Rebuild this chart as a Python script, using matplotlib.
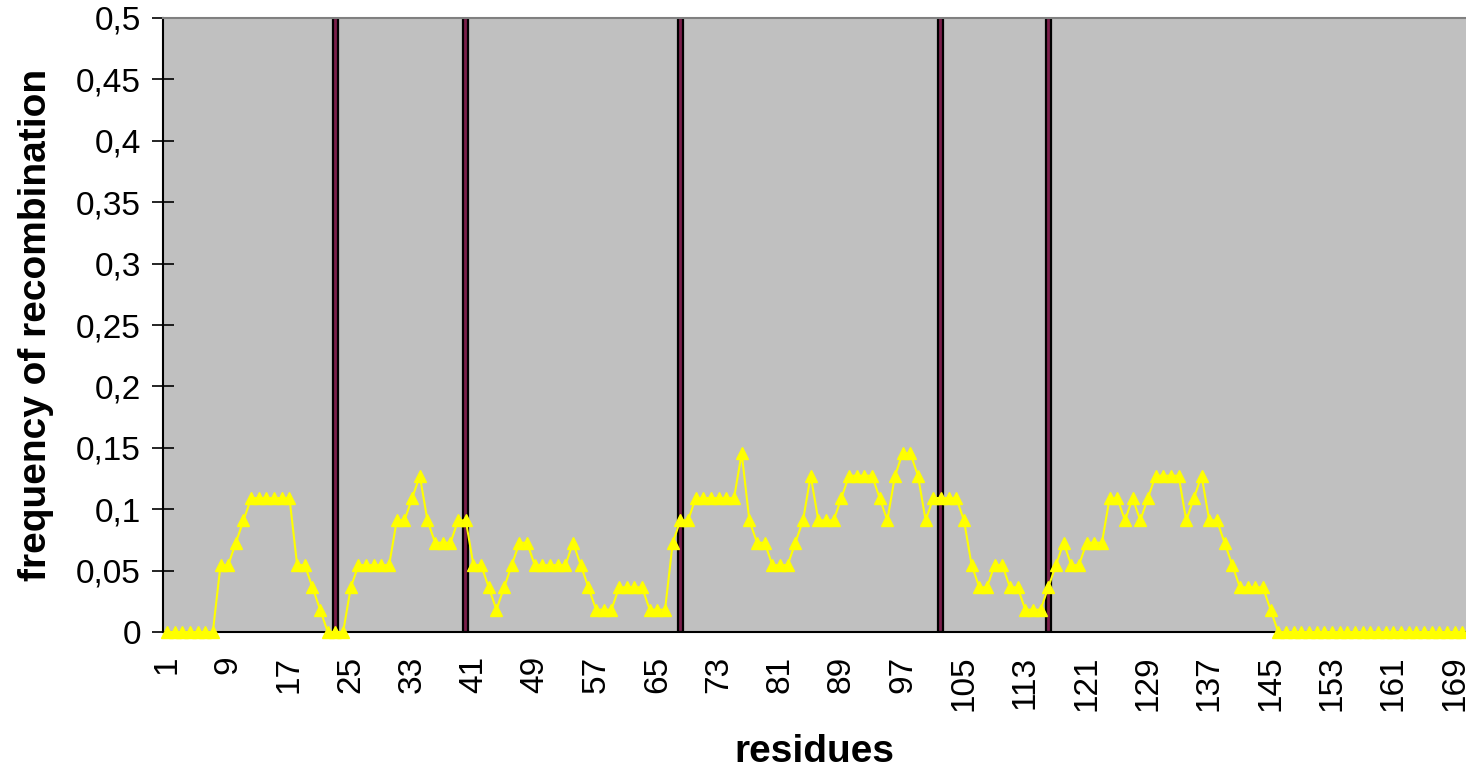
import matplotlib
matplotlib.use('Agg')
import matplotlib.pyplot as plt
import numpy as np

plt.rcParams['font.family'] = ['Liberation Sans', 'DejaVu Sans']

# recombination frequency per residue
freq = [0, 0, 0, 0, 0, 0, 0, 0.0545, 0.0545, 0.0727,
        0.0909, 0.1091, 0.1091, 0.1091, 0.1091, 0.1091, 0.1091, 0.0545, 0.0545, 0.0364,
        0.0182, 0, 0, 0, 0.0364, 0.0545, 0.0545, 0.0545, 0.0545, 0.0545,
        0.0909, 0.0909, 0.1091, 0.1273, 0.0909, 0.0727, 0.0727, 0.0727, 0.0909, 0.0909,
        0.0545, 0.0545, 0.0364, 0.0182, 0.0364, 0.0545, 0.0727, 0.0727, 0.0545, 0.0545,
        0.0545, 0.0545, 0.0545, 0.0727, 0.0545, 0.0364, 0.0182, 0.0182, 0.0182, 0.0364,
        0.0364, 0.0364, 0.0364, 0.0182, 0.0182, 0.0182, 0.0727, 0.0909, 0.0909, 0.1091,
        0.1091, 0.1091, 0.1091, 0.1091, 0.1091, 0.1455, 0.0909, 0.0727, 0.0727, 0.0545,
        0.0545, 0.0545, 0.0727, 0.0909, 0.1273, 0.0909, 0.0909, 0.0909, 0.1091, 0.1273,
        0.1273, 0.1273, 0.1273, 0.1091, 0.0909, 0.1273, 0.1455, 0.1455, 0.1273, 0.0909,
        0.1091, 0.1091, 0.1091, 0.1091, 0.0909, 0.0545, 0.0364, 0.0364, 0.0545, 0.0545,
        0.0364, 0.0364, 0.0182, 0.0182, 0.0182, 0.0364, 0.0545, 0.0727, 0.0545, 0.0545,
        0.0727, 0.0727, 0.0727, 0.1091, 0.1091, 0.0909, 0.1091, 0.0909, 0.1091, 0.1273,
        0.1273, 0.1273, 0.1273, 0.0909, 0.1091, 0.1273, 0.0909, 0.0909, 0.0727, 0.0545,
        0.0364, 0.0364, 0.0364, 0.0364, 0.0182, 0, 0, 0, 0, 0,
        0, 0, 0, 0, 0, 0, 0, 0, 0, 0,
        0, 0, 0, 0, 0, 0, 0, 0, 0, 0]
residues = np.arange(1, len(freq) + 1)

# boundary residues (vertical markers)
boundaries = [23, 40, 68, 102, 116]
boundary_height = 0.5

tick_labels = residues[::8]

fig = plt.figure(figsize=(14.66, 7.72), dpi=100)
ax = fig.add_axes([0.1112, 0.1813, 0.8888, 0.7954])
ax.set_facecolor('#C0C0C0')

ax.bar(boundaries, [boundary_height] * len(boundaries), width=0.65,
       color='#7B1F4B', edgecolor='black', linewidth=1.6, zorder=2)

ax.plot(residues, freq, '-', color='#FFFF00', lw=1.5, marker='^',
        markersize=8, markeredgecolor='#FFFF00', zorder=3, clip_on=False)

ax.set_xlim(0.5, len(freq) + 0.5)
ax.set_ylim(0, 0.5)
ax.set_xticks(tick_labels)
ax.set_xticklabels([str(t) for t in tick_labels], rotation=90, fontsize=24)
yt = np.arange(0, 0.501, 0.05)
ax.set_yticks(yt)
ax.set_yticklabels(['0'] + [('%g' % v).replace('.', ',') for v in yt[1:]], fontsize=24)
ax.tick_params(axis='x', length=0, pad=17)
ax.tick_params(axis='y', direction='inout', length=16, width=1.2, pad=8)

for s in ['left', 'bottom']:
    ax.spines[s].set_color('black')
    ax.spines[s].set_linewidth(1.5)
ax.spines['top'].set_color('#808080')
ax.spines['top'].set_linewidth(1.5)
ax.spines['right'].set_visible(False)

ax.set_xlabel('residues', fontsize=28, fontweight='bold', labelpad=16)
ax.set_ylabel('frequency of recombination', fontsize=28, fontweight='bold', labelpad=16)

plt.savefig('out.png', dpi=100)
